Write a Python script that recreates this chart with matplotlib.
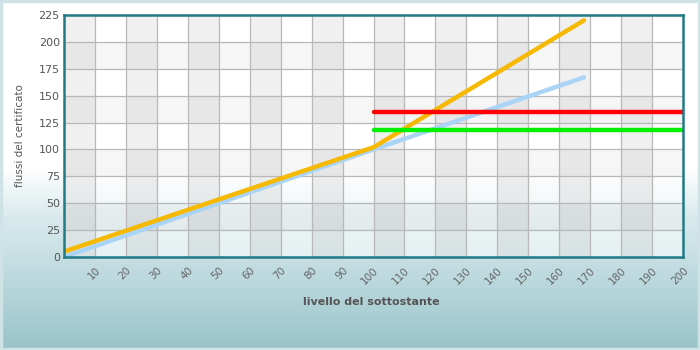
import numpy as np
import matplotlib
matplotlib.use("Agg")
import matplotlib.pyplot as plt
from matplotlib.colors import LinearSegmentedColormap

# certificate payoff data
x_orange = [0, 100, 168]
y_orange = [5, 102, 220]
x_blue = [0, 100, 168]
y_blue = [0, 100, 167]
x_red = [100, 200]
y_red = [135, 135]
x_green = [100, 200]
y_green = [118, 118]

x_ticks = list(range(10, 201, 10))
y_ticks = list(range(0, 226, 25))

fig = plt.figure(figsize=(7, 3.5), dpi=100)

# background gradient for the whole figure
bg = fig.add_axes([0, 0, 1, 1], zorder=-5)
grad_cmap = LinearSegmentedColormap.from_list(
    "bg", [(0.0, "#ffffff"), (0.48, "#ffffff"), (0.62, "#d9eaed"),
           (0.85, "#b4d4d9"), (1.0, "#98c3c9")])
grad = np.linspace(0, 1, 350).reshape(-1, 1)
bg.imshow(grad, aspect="auto", cmap=grad_cmap, extent=[0, 1, 0, 1], origin="upper")
bg.set_xlim(0, 1)
bg.set_ylim(0, 1)
bg.axis("off")
# thin light border round the figure
bg.add_patch(plt.Rectangle((0.002, 0.003), 0.996, 0.994, fill=False,
                           edgecolor="#cfe3e7", linewidth=2.5))

ax = fig.add_axes([64 / 700, 93 / 350, 619 / 700, 242 / 350])
ax.set_facecolor("none")
ax.set_xlim(0, 200)
ax.set_ylim(0, 225)

# cell fills: white wash, shaded columns and alternate rows
ax.axhspan(0, 225, color="white", alpha=0.55, zorder=0, linewidth=0)
for c in range(0, 200, 20):
    ax.axvspan(c, c + 10, color="#000000", alpha=0.06, zorder=0.5, linewidth=0)
for r in [25, 75, 125, 175]:
    ax.axhspan(r, r + 25, color="#000000", alpha=0.035, zorder=0.5, linewidth=0)

ax.set_xticks(range(0, 201, 10))
ax.set_yticks(y_ticks)
ax.grid(True, color="#b8b8b8", linewidth=0.9, zorder=1)
ax.set_axisbelow(True)

ax.plot(x_blue, y_blue, color="#aad4f6", linewidth=3.2, solid_capstyle="round", zorder=3)
ax.plot(x_orange, y_orange, color="#f6b900", linewidth=3.2, solid_capstyle="round", zorder=4)
ax.plot(x_red, y_red, color="#ff0000", linewidth=3.2, solid_capstyle="round", zorder=4)
ax.plot(x_green, y_green, color="#00f000", linewidth=3.2, solid_capstyle="round", zorder=4)

for s in ax.spines.values():
    s.set_color("#217b87")
    s.set_linewidth(1.8)
    s.set_zorder(6)

ax.set_xticklabels([""] + [str(v) for v in x_ticks], rotation=45, ha="right",
                   rotation_mode="anchor", fontsize=7.5, color="#666666")
ax.set_yticklabels([str(v) for v in y_ticks], fontsize=8, color="#555555")
ax.tick_params(axis="both", length=0, pad=3)
ax.tick_params(axis="x", pad=6)

ax.set_ylabel("flussi del certificato", fontsize=7.5, color="#555555", labelpad=10)
fig.text(0.531, 0.137, "livello del sottostante", ha="center", va="center",
         fontsize=8, fontweight="bold", color="#555555")

fig.savefig("out.png", dpi=100)
